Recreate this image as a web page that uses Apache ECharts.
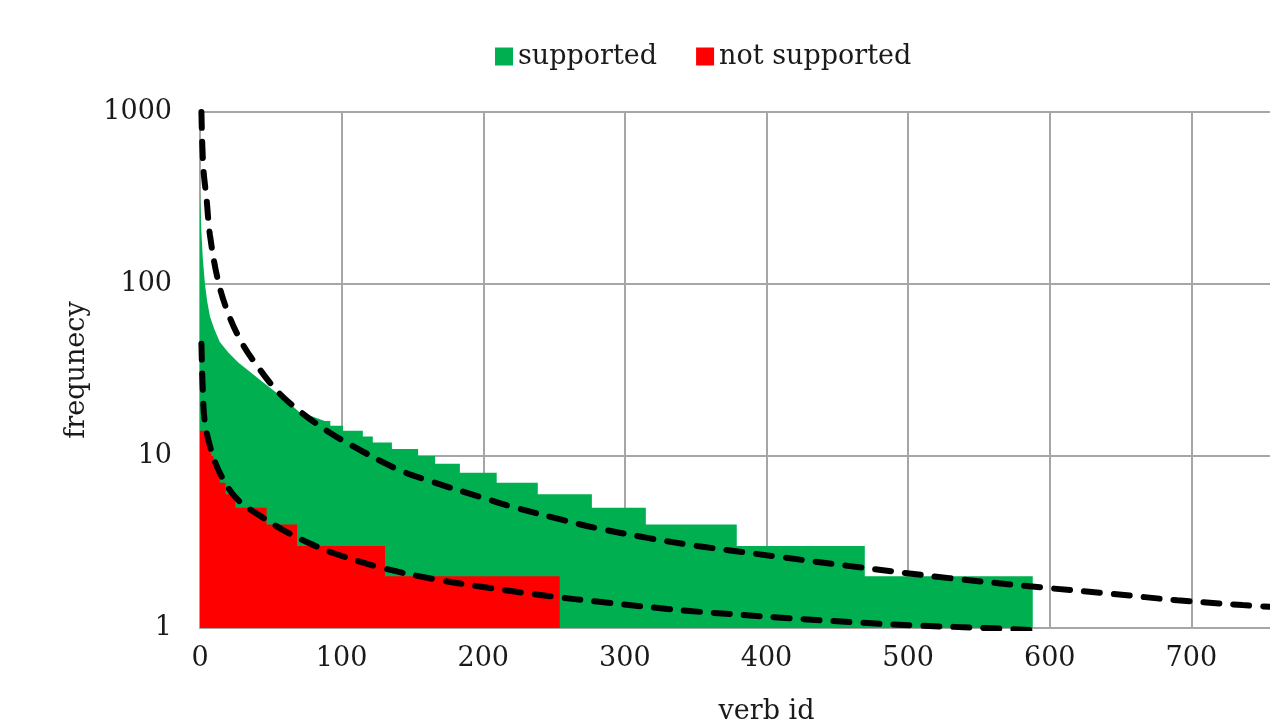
<!DOCTYPE html>
<html>
<head>
<meta charset="utf-8">
<script src="https://cdn.jsdelivr.net/npm/echarts@6/dist/echarts.min.js"></script>
<style>
html,body{margin:0;padding:0;background:#fff;}
#chart{width:1270px;height:728px;}
</style>
</head>
<body>
<div id="chart"></div>
<script>
// x tick labels
const xTicks = [0, 100, 200, 300, 400, 500, 600, 700, 800];
// y tick labels
const yTicks = [1, 10, 100, 1000];
// supported verbs: head of the distribution (dense, near-continuous)
const supportedHeadIds  = [0, 1, 2, 3.5, 5, 7, 10, 14, 20, 27, 35, 44, 52, 58, 64, 70, 79, 88, 92];
const supportedHeadFreq = [340, 200, 140, 100, 80, 65, 55, 46, 40, 35, 31, 27, 24, 22, 20, 18, 17, 16, 15];
// supported verbs: stepped tail (step start id, frequency)
const supportedTailIds  = [88, 92, 101, 115, 122, 135.5, 154, 166, 183.5, 209.5, 238.5, 276.7, 314.8, 379, 469.4, 588];
const supportedTailFreq = [16, 15, 14, 13, 12, 11, 10, 9, 8, 7, 6, 5, 4, 3, 2, 2];
// not supported verbs
const notSupportedIds  = [0, 5.6, 7, 8, 9.5, 11, 14, 18, 25, 47, 68.5, 130.6, 254];
const notSupportedFreq = [14, 12, 11, 10, 9, 8, 7, 6, 5, 4, 3, 2, 2];
// upper dashed trend
const upperIds  = [1, 2.3, 4.7, 7, 12.7, 19.8, 29.6, 41, 55, 72, 92, 108, 139, 162, 198, 221, 256, 280, 316, 351, 409, 459, 529, 598, 644, 690, 736, 760];
const upperFreq = [1000, 479, 308, 193, 105, 67.8, 45.4, 32.9, 23.6, 17.8, 13.6, 11.4, 8.4, 7.16, 5.78, 5.05, 4.25, 3.81, 3.34, 3.0, 2.59, 2.29, 1.95, 1.71, 1.58, 1.45, 1.36, 1.32];
// lower dashed trend
const lowerIds  = [1, 2, 3.5, 8.5, 15.5, 26.8, 43.8, 60, 74, 94, 129, 164.5, 200, 247, 282, 330, 348, 416, 461, 506, 554, 590];
const lowerFreq = [45, 24, 15.6, 10.4, 7.55, 5.55, 4.42, 3.66, 3.2, 2.73, 2.23, 1.93, 1.73, 1.53, 1.42, 1.29, 1.25, 1.14, 1.08, 1.034, 1.0, 0.97];

const zip = (a, b) => a.map((v, i) => [v, b[i]]);
const FONT = 'DejaVu Serif';
const FS = 27;
const TXT = '#1a1a1a';
const GRIDC = '#a6a6a6';
const GREEN = '#00b050';
const RED = '#ff0000';

const chart = echarts.init(document.getElementById('chart'), null, {renderer: 'canvas'});
chart.setOption({
  animation: false,
  backgroundColor: '#fff',
  legend: {
    left: 490, top: 38,
    itemWidth: 18, itemHeight: 18, itemGap: 39,
    textStyle: {fontFamily: FONT, fontSize: FS, color: TXT},
    data: [
      {name: 'supported', icon: 'rect'},
      {name: 'not supported', icon: 'rect'}
    ]
  },
  grid: {left: 200, top: 112, width: 1133, height: 516, containLabel: false, outerBoundsMode: 'none'},
  xAxis: {
    type: 'value', min: 0, max: 800, interval: 100,
    name: 'verb id', nameLocation: 'middle', nameGap: 70,
    nameTextStyle: {fontFamily: FONT, fontSize: FS, color: TXT},
    axisLine: {show: true, lineStyle: {color: GRIDC, width: 2}},
    axisTick: {show: false},
    axisLabel: {fontFamily: FONT, fontSize: FS, color: TXT, margin: 17,
      formatter: v => xTicks.includes(v) ? String(v) : ''},
    splitLine: {show: true, lineStyle: {color: GRIDC, width: 2}}
  },
  yAxis: {
    type: 'log', logBase: 10, min: 1, max: 1000,
    name: 'frequnecy', nameLocation: 'middle', nameGap: 110, nameRotate: 90,
    nameTextStyle: {fontFamily: FONT, fontSize: FS, color: TXT},
    axisLine: {show: true, lineStyle: {color: GRIDC, width: 2}},
    axisTick: {show: false},
    axisLabel: {fontFamily: FONT, fontSize: FS, color: TXT, margin: 28,
      formatter: v => {
        const r = Math.round(v);
        return yTicks.includes(r) ? String(r) : '';
      }},
    splitLine: {show: true, lineStyle: {color: GRIDC, width: 2}}
  },
  series: [
    {
      name: 'supported', type: 'line', showSymbol: false, symbol: 'none',
      data: zip(supportedHeadIds, supportedHeadFreq),
      itemStyle: {color: GREEN},
      lineStyle: {width: 0, color: GREEN},
      areaStyle: {color: GREEN, opacity: 1, origin: 'start'},
      z: 2
    },
    {
      name: 'supported', type: 'line', step: 'end', showSymbol: false, symbol: 'none',
      data: zip(supportedTailIds, supportedTailFreq),
      itemStyle: {color: GREEN},
      lineStyle: {width: 0, color: GREEN},
      areaStyle: {color: GREEN, opacity: 1, origin: 'start'},
      z: 2
    },
    {
      name: 'not supported', type: 'line', step: 'end', showSymbol: false, symbol: 'none',
      data: zip(notSupportedIds, notSupportedFreq),
      itemStyle: {color: RED},
      lineStyle: {width: 0, color: RED},
      areaStyle: {color: RED, opacity: 1, origin: 'start'},
      z: 3
    },
    {
      name: 'upper trend', type: 'line', smooth: 0.35, showSymbol: false, symbol: 'none',
      data: zip(upperIds, upperFreq),
      lineStyle: {color: '#000', width: 6, type: [16, 14], cap: 'round'},
      z: 4, silent: true
    },
    {
      name: 'lower trend', type: 'line', smooth: 0.35, showSymbol: false, symbol: 'none',
      data: zip(lowerIds, lowerFreq),
      lineStyle: {color: '#000', width: 6, type: [16, 14], cap: 'round'},
      z: 4, silent: true
    }
  ]
});
</script>
</body>
</html>
